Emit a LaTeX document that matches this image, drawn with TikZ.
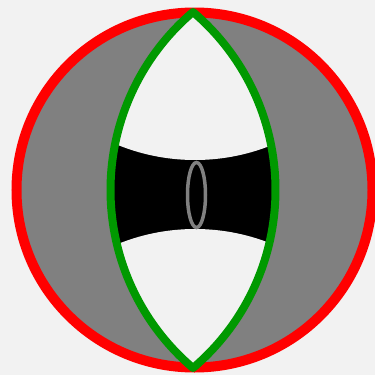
\documentclass[tikz,border=0pt]{standalone}
\usepackage{xcolor}
\definecolor{paper}{RGB}{242,242,242}
\definecolor{ringred}{RGB}{255,0,0}
\definecolor{lensgreen}{RGB}{0,153,0}
\definecolor{midgray}{RGB}{128,128,128}
\tikzset{
  ring/.style    = {draw=ringred, fill=midgray, line width=10pt},
  lensline/.style= {draw=lensgreen, line width=8pt, line join=round},
  waist/.style   = {draw=midgray, line width=3.5pt},
}

\begin{document}
\begin{tikzpicture}[x=1pt, y=-1pt]
  % Background
  \fill[paper] (0,0) rectangle (375,375);
  \useasboundingbox (0,0) rectangle (375,375);

  % Outer ring
  \coordinate (ctr) at (194.5,190);
  \path[ring] (ctr) ellipse [x radius=178, y radius=177.5];

  % Lens tips
  \coordinate (top) at (193,12);
  \coordinate (bot) at (193,368);

  % Lens interior
  \fill[paper] (top) arc[start angle=229.73, end angle=130.27, radius=233.3]
    arc[start angle=49.73, end angle=-49.73, radius=233.3] -- cycle;

  % Black waist, clipped to the lens
  \begin{scope}
    \clip (top) arc[start angle=229.73, end angle=130.27, radius=233.3]
      arc[start angle=49.73, end angle=-49.73, radius=233.3] -- cycle;
    \fill[black] (90,120) rectangle (300,270);
    \fill[paper] (195,-45) circle (205);
    \fill[paper] (195,434) circle (205);
  \end{scope}

  % Small ellipse
  \draw[waist] (196.5,195) ellipse [x radius=9, y radius=32.5];

  % Lens outline
  \draw[lensline] (top) arc[start angle=229.73, end angle=130.27, radius=233.3]
    arc[start angle=49.73, end angle=-49.73, radius=233.3] -- cycle;
\end{tikzpicture}
\end{document}
